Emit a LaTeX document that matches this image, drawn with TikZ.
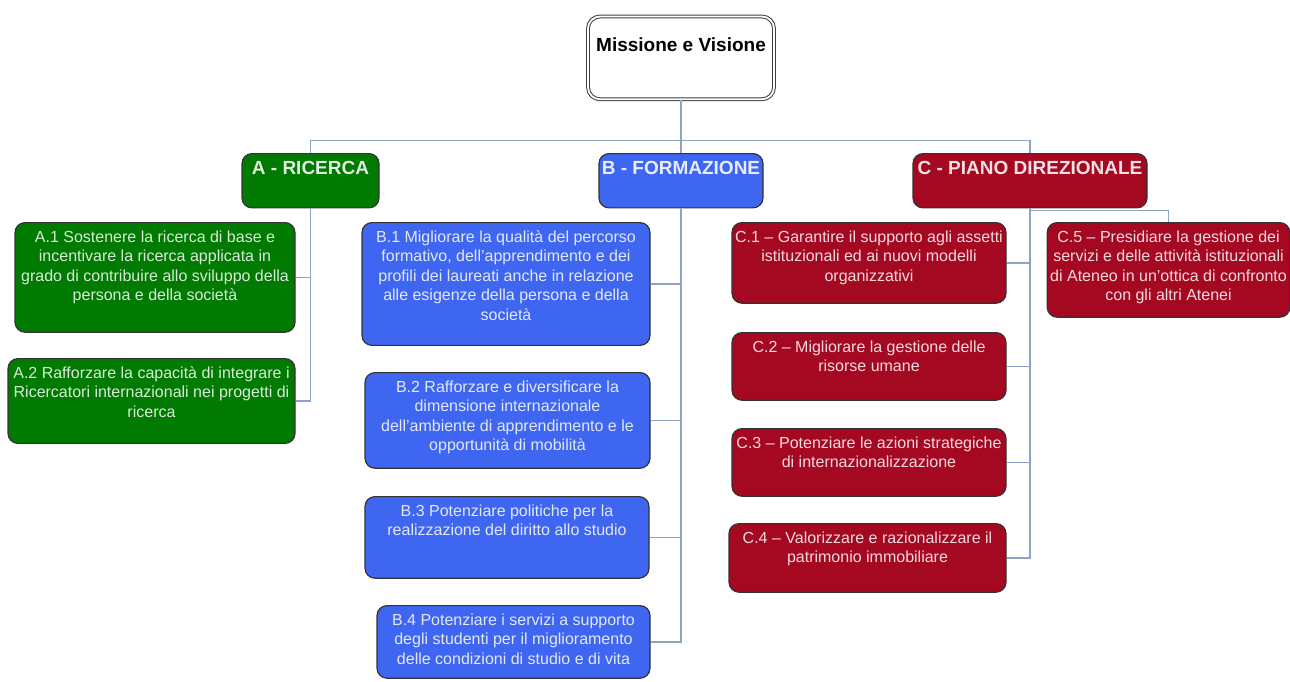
\documentclass[tikz,border=0pt]{standalone}
\usepackage{fontspec}
\setsansfont{Liberation Sans}
\usetikzlibrary{positioning, calc}
\definecolor{cRic}{RGB}{0, 122, 0}
\definecolor{cFor}{RGB}{62, 102, 240}
\definecolor{cDir}{RGB}{165, 8, 33}
\definecolor{cLine}{RGB}{143, 163, 199}
\tikzset{
    font=\sffamily,
    % nodo radice
    rootNode/.style={
        rectangle, rounded corners=12pt, draw=black!75, line width=1pt, double=white, double distance=1.8pt,
        fill=white, minimum width=186pt, inner ysep=21pt, align=center,
        font=\sffamily\bfseries\fontsize{19}{22}\selectfont
    },
    % aree strategiche
    headNode/.style={
        rectangle, rounded corners=10pt, draw=black!80, line width=1.2pt, fill=#1,
        text=white!88!#1, inner xsep=2pt, inner ysep=8pt, text depth=25pt, align=center,
        font=\sffamily\bfseries\fontsize{19}{22}\selectfont
    },
    % obiettivi
    goalNode/.style={
        rectangle, rounded corners=10pt, draw=black!80, line width=1.2pt, fill=#1,
        text=white!85!#1, inner xsep=3pt, inner ysep=8pt, align=center,
        font=\sffamily\fontsize{16}{19.5}\selectfont
    },
    % collegamenti
    conn/.style={
        draw=cLine, line width=1.3pt
    }
}

\begin{document}
\begin{tikzpicture}[x=1pt, y=-1pt]
	\useasboundingbox (0,0) rectangle (1290,681);

	% 1. Missione
	\node[rootNode, anchor=north, text depth=27pt] (mission) at (681,16) {Missione e Visione};

	% 2. Aree
	\node[headNode=cRic, anchor=north, minimum width=137pt] (hRic) at (310.5,153) {A - RICERCA};
	\node[headNode=cFor, anchor=north, minimum width=164pt] (hFor) at (681,153) {B - FORMAZIONE};
	\node[headNode=cDir, anchor=north, minimum width=234pt] (hDir) at (1030,153) {C - PIANO DIREZIONALE};

	% 3. Obiettivi A
	\node[goalNode=cRic, anchor=north, minimum width=280pt, text depth=23.5pt] (a1) at (155,222) {
		A.1 Sostenere la ricerca di base e\\
		incentivare la ricerca applicata in\\
		grado di contribuire allo sviluppo della\\
		persona e della società
	};
	\node[goalNode=cRic, anchor=north, minimum width=287pt, text depth=18pt] (a2) at (151.5,358) {
		A.2 Rafforzare la capacità di integrare i\\
		Ricercatori internazionali nei progetti di\\
		ricerca
	};

	% 4. Obiettivi B
	\node[goalNode=cFor, anchor=north, minimum width=288pt, text depth=17pt] (b1) at (506,222) {
		B.1 Migliorare la qualità del percorso\\
		formativo, dell'apprendimento e dei\\
		profili dei laureati anche in relazione\\
		alle esigenze della persona e della\\
		società
	};
	\node[goalNode=cFor, anchor=north, minimum width=285pt, text depth=9.5pt] (b2) at (507.5,372) {
		B.2 Rafforzare e diversificare la\\
		dimensione internazionale\\
		dell'ambiente di apprendimento e le\\
		opportunità di mobilità
	};
	\node[goalNode=cFor, anchor=north, minimum width=284pt, text depth=34.5pt] (b3) at (507,496) {
		B.3 Potenziare politiche per la\\
		realizzazione del diritto allo studio
	};
	\node[goalNode=cFor, anchor=north, minimum width=273pt, text depth=6pt] (b4) at (513.5,605) {
		B.4 Potenziare i servizi a supporto\\
		degli studenti per il miglioramento\\
		delle condizioni di studio e di vita
	};

	% 5. Obiettivi C
	\node[goalNode=cDir, anchor=north, minimum width=274pt, text depth=14pt] (c1) at (869,222) {
		C.1 – Garantire il supporto agli assetti\\
		istituzionali ed ai nuovi modelli\\
		organizzativi
	};
	\node[goalNode=cDir, anchor=north, minimum width=274pt, text depth=20.5pt] (c2) at (869,332) {
		C.2 – Migliorare la gestione delle\\
		risorse umane
	};
	\node[goalNode=cDir, anchor=north, minimum width=274pt, text depth=20.5pt] (c3) at (869,428) {
		C.3 – Potenziare le azioni strategiche\\
		di internazionalizzazione
	};
	\node[goalNode=cDir, anchor=north, minimum width=277pt, text depth=21.5pt] (c4) at (867.5,523) {
		C.4 – Valorizzare e razionalizzare il\\
		patrimonio immobiliare
	};
	\node[goalNode=cDir, anchor=north, minimum width=241pt, text depth=8.5pt] (c5) at (1168.5,222) {
		C.5 – Presidiare la gestione dei\\
		servizi e delle attività istituzionali\\
		di Ateneo in un'ottica di confronto\\
		con gli altri Atenei
	};

	% 6. Collegamenti
	\coordinate (bus) at ($(mission.south)+(0,41)$);
	\draw[conn] (mission.south) -- (hFor.north);
	\draw[conn] (hRic.north) |- (bus) -| (hDir.north);

	\foreach \g in {a1, a2} \draw[conn] (hRic.south) |- (\g.east);
	\foreach \g in {b1, b2, b3, b4} \draw[conn] (hFor.south) |- (\g.east);
	\foreach \g in {c1, c2, c3, c4} \draw[conn] (hDir.south) |- (\g.east);
	\draw[conn] (hDir.south) -- ++(0,2) -| (c5.north);

\end{tikzpicture}
\end{document}
